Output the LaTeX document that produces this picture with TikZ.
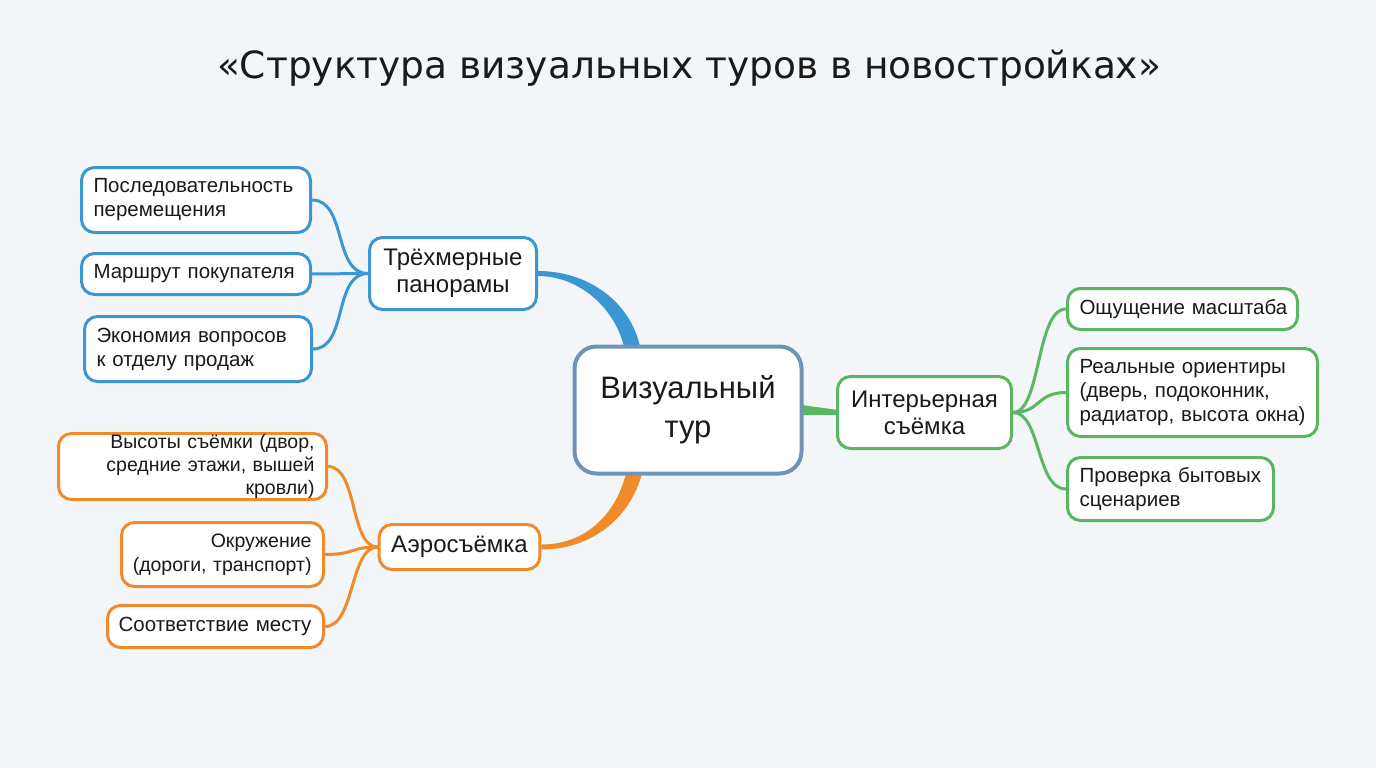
\documentclass[tikz,border=0pt]{standalone}
\usepackage{fontspec}
\setmainfont{Liberation Sans}
\newfontfamily\titlefont{DejaVu Sans}
\usetikzlibrary{calc,backgrounds}
\definecolor{bg}{HTML}{F3F6F9}
\definecolor{cblue}{HTML}{3A97D4}
\definecolor{cgreen}{HTML}{5BB662}
\definecolor{corange}{HTML}{F08A2B}
\definecolor{ccore}{HTML}{7194B6}
\definecolor{ink}{HTML}{1A1A1A}
% one unbreakable label line, flush left or flush right
\newcommand\lineL[1]{\makebox[\linewidth][l]{#1}}
\newcommand\lineR[1]{\makebox[\linewidth][r]{#1}}

\begin{document}
\begin{tikzpicture}[x=1pt,y=-1pt,
  box/.style={draw, fill=white, rounded corners=13pt, line width=3pt,
    inner xsep=12pt, inner ysep=0pt, text=ink,
    font=\fontsize{20.5}{24}\selectfont},
  leafblue/.style={box, draw=cblue, align=left},
  leafgreen/.style={box, draw=cgreen, align=left},
  leaforange/.style={box, draw=corange, align=right},
  branch/.style={box, align=center, font=\fontsize{24}{27}\selectfont},
  wire/.style={line width=3pt, line cap=round}
]
\useasboundingbox (0,0) rectangle (1376,768);

% title
\node[text=ink, font=\titlefont\fontsize{37.5}{44}\selectfont] (title) at (689,68)
  {«Структура визуальных туров в новостройках»};

% central topic
\node[box, draw=ccore, line width=4pt, rounded corners=22pt, align=center,
  minimum width=227pt, minimum height=127pt,
  font=\fontsize{31}{39}\selectfont] (core) at (688,410) {Визуальный\\тур};

% branches
\node[branch, draw=cblue, minimum width=167pt, minimum height=72pt] (pano) at (453,273.5) {Трёхмерные\\панорамы};
\node[branch, draw=cgreen, minimum width=174pt, minimum height=72pt] (inter) at (924.5,412.5) {Интерьерная\\съёмка};
\node[branch, draw=corange, minimum width=160pt, minimum height=45pt] (aero) at (459.5,547) {Аэросъёмка};

% blue leaves
\node[leafblue, text width=205pt, minimum height=65pt] (b1) at (196,200)
  {\lineL{Последовательность}\\\lineL{перемещения}};
\node[leafblue, text width=205pt, minimum height=41pt] (b2) at (196,274)
  {\lineL{Маршрут покупателя}};
\node[leafblue, text width=203pt, minimum height=65pt] (b3) at (198,349)
  {\lineL{Экономия вопросов}\\\lineL{к отделу продаж}};

% green leaves
\node[leafgreen, text width=206pt, minimum height=41pt] (g1) at (1182.5,309)
  {\lineL{Ощущение масштаба}};
\node[leafgreen, text width=226pt, minimum height=88pt] (g2) at (1192.5,392.5)
  {\lineL{Реальные ориентиры}\\\lineL{(дверь, подоконник,}\\\lineL{радиатор, высота окна)}};
\node[leafgreen, text width=182pt, minimum height=63pt] (g3) at (1170.5,489)
  {\lineL{Проверка бытовых}\\\lineL{сценариев}};

% orange leaves
\node[leaforange, text width=244pt, minimum height=66pt, font=\fontsize{19.5}{23}\selectfont] (o1) at (192.5,466.5)
  {\lineR{Высоты съёмки (двор,}\\\lineR{средние этажи, вышей}\\\lineR{кровли)}};
\node[leaforange, text width=178pt, minimum height=64pt, font=\fontsize{19.5}{24}\selectfont] (o2) at (222.5,554.5)
  {\lineR{Окружение}\\\lineR{(дороги, транспорт)}};
\node[leaforange, text width=192pt, minimum height=42pt] (o3) at (215.5,626.5)
  {\lineR{Соответствие месту}};

\begin{scope}[on background layer]
  \fill[bg] (0,0) rectangle (1376,768);

  % thick tapered links from the centre
  \fill[cblue] ($(pano.east)+(0,-2.5)$) .. controls +(50,0) and +(-10,-45) .. ($(core.north)+(-48,2)$)
    -- ($(core.north)+(-64,2)$) .. controls +(-10,-40) and +(40,0) .. ($(pano.east)+(0,2.5)$) -- cycle;
  \fill[corange] ($(aero.east)+(0,-2.5)$) .. controls +(45,0) and +(-10,40) .. ($(core.south)+(-62,-2)$)
    -- ($(core.south)+(-46,-2)$) .. controls +(-12,45) and +(50,0) .. ($(aero.east)+(0,2.5)$) -- cycle;
  \fill[cgreen] ($(core.east)+(-2,-5)$) -- ($(inter.west)+(2,-2.5)$)
    -- ($(inter.west)+(2,2.5)$) -- ($(core.east)+(-2,5)$) -- cycle;

  % blue links
  \draw[wire, cblue] (b1.east) .. controls +(35,0) and +(-35,0) .. (pano.west);
  \draw[wire, cblue] (b2.east) -- (pano.west);
  \draw[wire, cblue] (b3.east) .. controls +(35,0) and +(-35,0) .. (pano.west);

  % green links
  \draw[wire, cgreen] (inter.east) .. controls +(28,0) and +(-30,0) .. (g1.west);
  \draw[wire, cgreen] (inter.east) .. controls +(28,0) and +(-30,0) .. (g2.west);
  \draw[wire, cgreen] (inter.east) .. controls +(28,0) and +(-30,0) .. (g3.west);

  % orange links
  \draw[wire, corange] (aero.west) .. controls +(-28,0) and +(30,0) .. (o1.east);
  \draw[wire, corange] (aero.west) .. controls +(-28,0) and +(30,0) .. (o2.east);
  \draw[wire, corange] (aero.west) .. controls +(-28,0) and +(30,0) .. (o3.east);
\end{scope}
\end{tikzpicture}
\end{document}
